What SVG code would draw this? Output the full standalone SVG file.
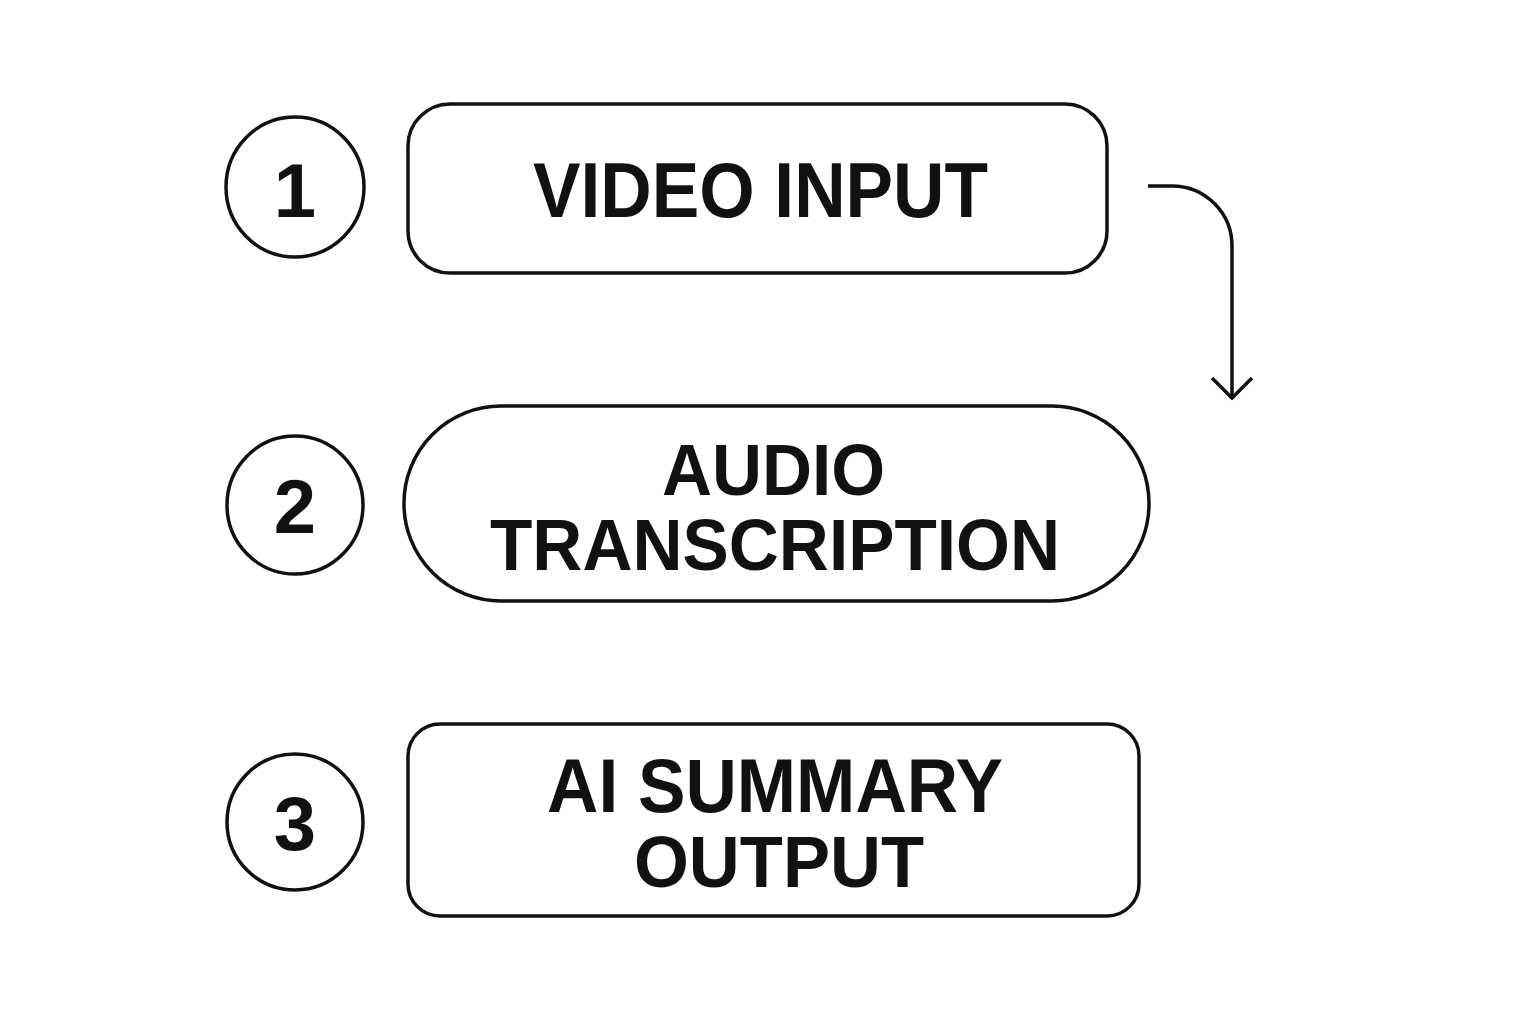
<svg xmlns="http://www.w3.org/2000/svg" width="1536" height="1024" viewBox="0 0 1536 1024">
<style>
.shape{fill:#fff;stroke:#111;stroke-width:3.5}
.num{font-family:"Liberation Sans",Arial,sans-serif;font-weight:bold;font-size:76px;fill:#111;text-anchor:middle}
.lbl{font-family:"Liberation Sans",Arial,sans-serif;font-weight:bold;fill:#111}
.conn{fill:none;stroke:#111;stroke-width:3.5;stroke-linecap:butt;stroke-linejoin:miter}
</style>
<rect width="1536" height="1024" fill="#fff"/>
<g id="step1">
<ellipse class="shape" cx="295" cy="187" rx="69" ry="70"/>
<text class="num" x="295" y="217">1</text>
</g>
<g id="video-input">
<rect class="shape" x="408" y="104" width="699" height="169" rx="42"/>
<text class="lbl" x="533" y="217" font-size="78" textLength="455" lengthAdjust="spacingAndGlyphs">VIDEO INPUT</text>
</g>
<g id="step2">
<ellipse class="shape" cx="295" cy="505" rx="68" ry="69"/>
<text class="num" x="295" y="533">2</text>
</g>
<g id="audio-transcription">
<rect class="shape" x="404" y="406" width="745" height="195" rx="97"/>
<text class="lbl" x="662" y="495" font-size="73" textLength="223" lengthAdjust="spacingAndGlyphs">AUDIO</text>
<text class="lbl" x="490" y="570" font-size="73" textLength="570" lengthAdjust="spacingAndGlyphs">TRANSCRIPTION</text>
</g>
<g id="step3">
<ellipse class="shape" cx="295" cy="822" rx="68" ry="68"/>
<text class="num" x="295" y="850">3</text>
</g>
<g id="ai-summary-output">
<rect class="shape" x="408" y="724" width="731" height="192" rx="32"/>
<text class="lbl" x="547" y="812" font-size="76" textLength="456" lengthAdjust="spacingAndGlyphs">AI SUMMARY</text>
<text class="lbl" x="634" y="887" font-size="72" textLength="290" lengthAdjust="spacingAndGlyphs">OUTPUT</text>
</g>
<g id="connectors">
<path class="conn" d="M1148 186 H1172 A60 60 0 0 1 1232 246 V397"/>
<path class="conn" d="M1212 378 L1232 398 L1252 378"/>
</g>
</svg>
